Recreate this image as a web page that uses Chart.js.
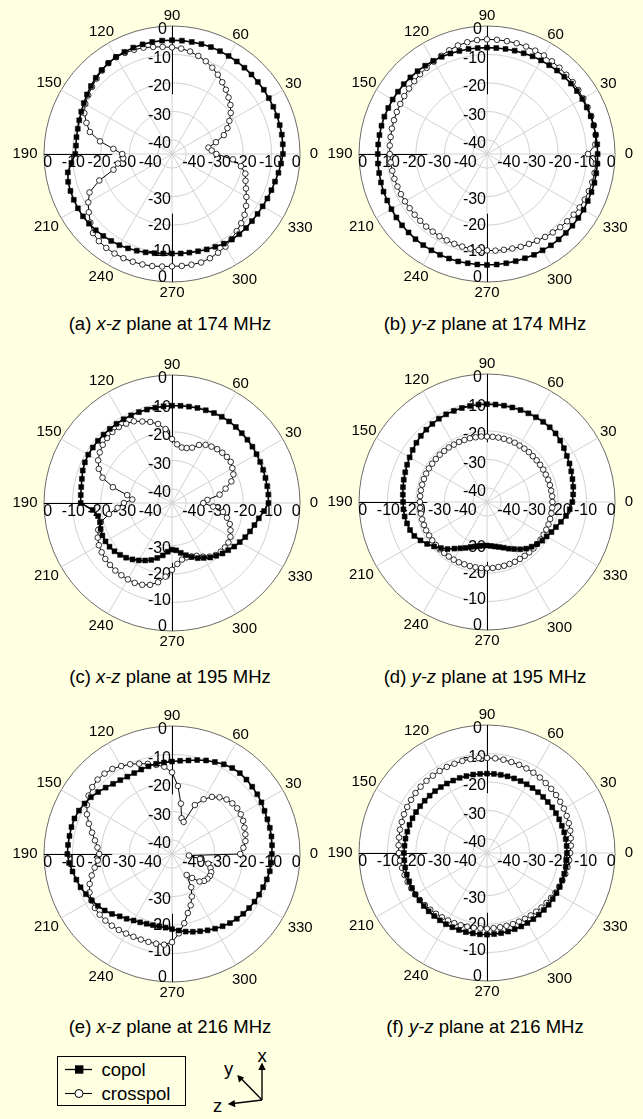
<!DOCTYPE html>
<html>
<head>
<meta charset="utf-8">
<script src="https://cdn.jsdelivr.net/npm/chart.js@4.4.1/dist/chart.umd.min.js"></script>
<style>
  html, body { margin: 0; padding: 0; }
  body {
    width: 643px; height: 1119px; position: relative; overflow: hidden;
    background: #FFFFE2;
    font-family: "Liberation Sans", Arial, sans-serif; color: #000;
  }
  canvas.polar { position: absolute; }
  .caption {
    position: absolute; font-size: 18.5px; white-space: nowrap;
    transform: translate(-50%, -50%); line-height: 1;
  }
  svg.keys { position: absolute; left: 0; top: 1040px; }
  svg.keys text { font-family: "Liberation Sans", Arial, sans-serif; font-size: 18.5px; fill: #000; }
</style>
</head>
<body>

<div class="caption" style="left:170px; top:324px;">(a) <i>x-z</i> plane at 174 MHz</div>
<div class="caption" style="left:485px; top:324px;">(b) <i>y-z</i> plane at 174 MHz</div>
<div class="caption" style="left:170px; top:677px;">(c) <i>x-z</i> plane at 195 MHz</div>
<div class="caption" style="left:485px; top:677px;">(d) <i>y-z</i> plane at 195 MHz</div>
<div class="caption" style="left:170px; top:1027px;">(e) <i>x-z</i> plane at 216 MHz</div>
<div class="caption" style="left:485px; top:1027px;">(f) <i>y-z</i> plane at 216 MHz</div>

<svg class="keys" width="330" height="79" viewBox="0 0 330 79">
  <rect x="57.5" y="16.5" width="128" height="49" fill="none" stroke="#000" stroke-width="1"/>
  <line x1="65" y1="29.5" x2="92" y2="29.5" stroke="#000" stroke-width="1.3"/>
  <rect x="75" y="25.3" width="8.4" height="8.4" fill="#000"/>
  <text x="101.5" y="35.5">copol</text>
  <line x1="65" y1="53.5" x2="92" y2="53.5" stroke="#000" stroke-width="1.1"/>
  <circle cx="79" cy="53.5" r="4" fill="#fff" stroke="#000" stroke-width="1"/>
  <text x="101.5" y="59.5">crosspol</text>

  <g stroke="#000" stroke-width="1.4" fill="none">
    <line x1="262" y1="60" x2="262" y2="28"/>
    <line x1="262" y1="60" x2="241" y2="38.5"/>
    <line x1="262" y1="60" x2="233" y2="63.5"/>
  </g>
  <g fill="#000">
    <polygon points="262,22.5 258.3,30 265.7,30"/>
    <polygon points="237.3,35 239.0,42.6 244.2,37.5"/>
    <polygon points="227.7,64 234.6,60.1 235.4,67.3"/>
  </g>
  <text x="262" y="22" text-anchor="middle">x</text>
  <text x="228.5" y="35" text-anchor="middle">y</text>
  <text x="217.5" y="71.5" text-anchor="middle">z</text>
</svg>

<canvas id="pa" class="polar" width="320" height="310"></canvas>
<canvas id="pb" class="polar" width="320" height="310"></canvas>
<canvas id="pc" class="polar" width="320" height="310"></canvas>
<canvas id="pd" class="polar" width="320" height="310"></canvas>
<canvas id="pe" class="polar" width="320" height="310"></canvas>
<canvas id="pf" class="polar" width="320" height="310"></canvas>

<script>
// Sampling angles (degrees, counter-clockwise from +x axis)
const ANGLES = [0,5,10,15,20,25,30,35,40,45,50,55,60,65,70,75,80,85,90,95,100,105,110,115,
  120,125,130,135,140,145,150,155,160,165,170,175,180,185,190,195,200,205,210,215,220,225,230,235,
  240,245,250,255,260,265,270,275,280,285,290,295,300,305,310,315,320,325,330,335,340,345,350,355];

// Angular tick marks and their printed text
const ANGLE_TICKS = [0, 30, 60, 90, 120, 150, 180, 210, 240, 270, 300, 330];
const ANGLE_TICK_TEXT = ['0', '30', '60', '90', '120', '150', '190', '210', '240', '270', '300', '330'];

// Radial (dB) tick labels
const RADIAL_TICKS = [0, -10, -20, -30, -40];

// (a) x-z plane, 174 MHz
const A_COPOL = [-6.0,-5.9,-5.8,-5.8,-5.7,-5.7,-5.7,-5.6,-5.6,-5.5,-5.4,-5.3,-5.2,-5.1,-5.0,-5.0,-5.0,-5.0,
  -5.0,-5.0,-5.0,-5.1,-5.2,-5.4,-5.6,-6.0,-6.5,-7.1,-7.8,-8.5,-9.2,-9.8,-10.3,-10.7,-10.9,-11.1,
  -11.0,-9.5,-7.8,-7.2,-7.0,-6.9,-6.8,-6.8,-6.9,-7.1,-7.4,-7.7,-8.0,-8.4,-8.8,-9.2,-9.6,-9.9,
  -10.0,-9.9,-9.8,-9.6,-9.3,-9.0,-8.6,-8.3,-8.2,-8.2,-8.3,-8.3,-8.2,-8.0,-7.8,-7.5,-7.0,-6.5];
const A_CROSSPOL = [-29.4,-31.0,-32.0,-29.0,-25.6,-23.5,-21.7,-19.8,-18.2,-16.9,-15.5,-14.2,-12.8,-11.5,-10.3,-9.3,-8.4,-7.8,
  -7.5,-7.2,-6.8,-6.3,-6.0,-5.8,-5.7,-6.0,-6.7,-7.5,-8.3,-9.0,-9.8,-11.0,-13.0,-15.1,-19.3,-24.3,
  -27.5,-27.8,-25.7,-23.7,-17.8,-13.0,-11.0,-9.3,-7.5,-5.7,-5.0,-4.7,-4.6,-4.6,-4.7,-4.8,-5.0,-5.3,
  -5.5,-5.5,-5.5,-5.5,-6.0,-6.7,-7.4,-8.5,-9.6,-10.6,-11.7,-13.2,-14.8,-16.3,-17.5,-18.3,-20.4,-23.5];

// (b) y-z plane, 174 MHz
const B_COPOL = [-6.1,-6.1,-6.2,-6.2,-6.2,-6.3,-6.3,-6.4,-6.5,-6.6,-6.7,-6.9,-7.0,-7.1,-7.3,-7.4,-7.5,-7.6,
  -7.6,-7.6,-7.5,-7.5,-7.4,-7.3,-7.2,-7.1,-7.0,-6.9,-6.8,-6.8,-6.7,-6.7,-6.6,-6.6,-6.6,-6.6,
  -6.6,-6.5,-6.5,-6.4,-6.3,-6.3,-6.2,-6.1,-6.0,-6.0,-5.9,-5.9,-5.9,-5.9,-5.9,-5.9,-6.0,-6.0,
  -6.0,-6.0,-6.0,-6.0,-6.0,-5.9,-5.9,-5.8,-5.8,-5.8,-5.8,-5.8,-5.8,-5.9,-5.9,-5.9,-6.0,-6.0];
const B_CROSSPOL = [-9.5,-6.8,-6.2,-6.1,-6.0,-6.0,-5.9,-5.8,-5.7,-5.6,-5.4,-5.2,-5.0,-4.9,-4.8,-4.7,-4.7,-4.7,
  -4.7,-4.8,-5.1,-5.5,-6.2,-6.9,-7.5,-8.0,-8.4,-8.8,-9.2,-9.5,-9.8,-10.0,-10.2,-10.4,-10.6,-10.7,
  -10.8,-11.0,-11.2,-11.3,-11.5,-11.6,-11.7,-11.8,-11.8,-11.8,-11.7,-11.7,-11.6,-11.5,-11.4,-11.3,-11.2,-11.1,
  -11.1,-10.9,-10.8,-10.6,-10.3,-10.1,-9.8,-9.4,-9.0,-8.6,-8.2,-7.8,-7.4,-7.1,-6.9,-6.7,-6.6,-6.6];

// (c) x-z plane, 195 MHz
const C_COPOL = [-11.1,-11.0,-11.0,-11.0,-10.9,-10.8,-10.7,-10.5,-10.4,-10.3,-10.1,-10.0,-10.0,-10.1,-10.3,-10.4,-10.6,-10.7,
  -10.8,-10.9,-11.0,-11.0,-11.0,-11.0,-11.0,-11.0,-11.0,-11.0,-11.0,-11.0,-11.0,-11.2,-11.6,-12.2,-12.6,-12.8,
  -12.9,-17.0,-18.6,-18.8,-18.3,-18.0,-18.0,-18.2,-18.6,-19.2,-19.9,-20.8,-21.7,-22.7,-23.7,-25.0,-26.3,-27.8,
  -28.6,-28.3,-27.2,-26.0,-24.8,-23.6,-22.7,-21.6,-20.8,-19.9,-19.2,-18.3,-17.5,-16.6,-15.8,-15.0,-14.0,-12.5];
const C_CROSSPOL = [-34.0,-32.5,-28.0,-25.5,-22.8,-21.2,-20.5,-19.8,-19.8,-20.0,-20.3,-20.8,-21.4,-22.5,-24.3,-25.0,-25.2,-24.3,
  -22.5,-18.9,-16.8,-15.5,-14.5,-13.3,-12.8,-12.4,-12.4,-12.7,-13.2,-14.0,-15.0,-16.6,-19.0,-23.5,-29.0,-31.0,
  -28.1,-25.8,-22.5,-19.1,-17.4,-16.2,-15.3,-14.8,-14.4,-14.2,-14.0,-14.0,-14.0,-14.0,-14.4,-15.2,-16.7,-19.0,
  -21.5,-23.5,-24.8,-25.2,-25.0,-24.5,-23.2,-22.0,-21.1,-20.8,-20.7,-20.8,-21.3,-22.3,-23.4,-25.0,-26.8,-30.5];

// (d) y-z plane, 195 MHz
const D_COPOL = [-15.0,-14.6,-14.2,-13.9,-13.5,-13.0,-12.6,-12.0,-11.4,-10.9,-10.7,-10.6,-10.6,-10.6,-10.6,-10.6,-10.6,-10.6,
  -10.6,-10.6,-10.7,-10.8,-10.9,-11.0,-11.2,-11.5,-11.8,-12.1,-12.6,-13.1,-13.6,-14.0,-14.4,-14.7,-15.0,-15.3,
  -15.5,-15.5,-15.6,-15.9,-16.2,-16.8,-18.0,-19.3,-20.7,-22.1,-23.4,-25.0,-26.2,-27.2,-28.2,-28.8,-29.3,-29.6,
  -29.7,-29.5,-29.1,-28.6,-27.9,-26.9,-25.9,-24.7,-23.6,-22.8,-22.0,-21.3,-20.8,-20.0,-19.2,-18.1,-16.8,-15.8];
const D_CROSSPOL = [-22.0,-22.0,-22.1,-22.1,-22.1,-22.2,-22.2,-22.2,-22.2,-22.2,-22.1,-22.1,-22.1,-22.0,-22.0,-22.0,-22.0,-22.0,
  -22.0,-21.9,-21.9,-21.8,-21.8,-21.7,-21.7,-21.6,-21.6,-21.5,-21.5,-21.5,-21.4,-21.4,-21.4,-21.4,-21.4,-21.4,
  -21.4,-21.4,-21.4,-21.4,-21.4,-21.4,-21.5,-21.5,-21.5,-21.5,-21.6,-21.6,-21.6,-21.6,-21.7,-21.7,-21.7,-21.7,
  -21.7,-21.7,-21.8,-21.8,-21.8,-21.8,-21.9,-21.9,-21.9,-21.9,-22.0,-22.0,-22.0,-22.0,-22.0,-22.0,-22.0,-22.0];

// (e) x-z plane, 216 MHz
const E_COPOL = [-9.9,-9.7,-9.5,-9.4,-9.3,-9.1,-8.7,-8.4,-8.2,-8.0,-7.9,-8.1,-8.6,-9.3,-10.0,-10.8,-11.6,-12.1,
  -12.5,-12.7,-12.8,-13.1,-13.4,-13.6,-13.6,-13.3,-12.8,-12.0,-11.1,-10.2,-9.5,-8.9,-8.5,-8.4,-8.4,-8.3,
  -8.2,-8.7,-9.5,-10.2,-10.8,-11.6,-12.4,-13.2,-14.1,-15.2,-16.4,-17.2,-18.0,-18.5,-18.9,-19.1,-19.2,-19.0,
  -18.6,-18.0,-17.3,-16.7,-16.1,-15.4,-14.7,-14.0,-13.3,-12.8,-12.3,-11.9,-11.5,-11.2,-10.9,-10.5,-10.1,-10.0];
const E_CROSSPOL = [-21.0,-19.8,-18.8,-18.3,-17.9,-17.4,-17.1,-17.0,-17.3,-17.9,-19.0,-20.5,-22.8,-26.0,-33.0,-32.0,-27.0,-21.0,
  -16.3,-14.2,-13.2,-12.2,-11.2,-10.2,-9.3,-8.5,-8.1,-8.0,-8.4,-9.2,-10.5,-12.0,-13.9,-15.9,-17.5,-18.7,
  -19.4,-18.8,-17.4,-15.8,-14.2,-13.0,-12.3,-11.9,-11.8,-11.9,-12.1,-12.4,-12.7,-12.9,-13.0,-13.0,-13.0,-13.0,
  -14.0,-17.0,-20.3,-23.5,-25.8,-28.5,-31.5,-36.0,-34.0,-31.3,-30.3,-29.8,-29.6,-29.8,-30.6,-31.8,-35.0,-39.0];

// (f) y-z plane, 216 MHz
const F_COPOL = [-16.9,-16.9,-16.9,-16.9,-17.0,-17.0,-17.0,-17.0,-17.1,-17.1,-17.1,-17.1,-17.1,-17.1,-17.1,-17.1,-17.1,-17.1,
  -17.1,-17.1,-17.0,-17.0,-16.9,-16.9,-16.8,-16.7,-16.6,-16.5,-16.4,-16.3,-16.2,-16.1,-16.0,-16.0,-15.9,-15.9,
  -15.8,-15.8,-15.8,-15.8,-15.9,-15.9,-15.9,-16.0,-16.0,-16.0,-16.1,-16.1,-16.1,-16.2,-16.2,-16.2,-16.3,-16.3,
  -16.3,-16.4,-16.4,-16.4,-16.5,-16.5,-16.6,-16.6,-16.7,-16.7,-16.7,-16.8,-16.8,-16.8,-16.9,-16.9,-16.9,-16.9];
const F_CROSSPOL = [-15.8,-15.4,-15.1,-14.7,-14.4,-14.1,-13.8,-13.6,-13.3,-13.1,-12.9,-12.6,-12.4,-12.2,-12.0,-11.9,-11.7,-11.6,
  -11.6,-11.5,-11.5,-11.5,-11.6,-11.6,-11.7,-11.8,-11.9,-12.0,-12.2,-12.4,-12.6,-12.8,-13.1,-13.3,-13.6,-13.8,
  -14.0,-14.3,-14.7,-15.0,-15.3,-15.6,-15.9,-16.2,-16.5,-16.8,-17.1,-17.4,-17.6,-17.8,-18.0,-18.2,-18.3,-18.4,
  -18.4,-18.5,-18.5,-18.5,-18.4,-18.4,-18.3,-18.2,-18.1,-17.9,-17.7,-17.5,-17.2,-17.0,-16.8,-16.5,-16.3,-16.0];

const PANELS = [
  { id: 'pa', cx: 172, cy: 154, copol: A_COPOL, crosspol: A_CROSSPOL },
  { id: 'pb', cx: 487, cy: 154, copol: B_COPOL, crosspol: B_CROSSPOL },
  { id: 'pc', cx: 172, cy: 503, copol: C_COPOL, crosspol: C_CROSSPOL },
  { id: 'pd', cx: 487, cy: 502, copol: D_COPOL, crosspol: D_CROSSPOL },
  { id: 'pe', cx: 172, cy: 854, copol: E_COPOL, crosspol: E_CROSSPOL },
  { id: 'pf', cx: 487, cy: 853, copol: F_COPOL, crosspol: F_CROSSPOL }
];

// Canvas geometry: 320x310 with the polar disc (radius 128) centred at (160,155)
const CANVAS_CX = 160, CANVAS_CY = 155;
const ANGLE_FONT = '15px "Liberation Sans", Arial, sans-serif';
const TICK_FONT = '16px "Liberation Sans", Arial, sans-serif';
// distance (px) of each angle label centre beyond the outer ring
const ANGLE_LABEL_GAP = [14, 12, 9, 10, 13, 14, 19, 17, 14, 11, 17, 20];
const AXIS_STUB_DB = -24;

Chart.defaults.font.family = '"Liberation Sans", Arial, sans-serif';

// The radar scale runs clockwise from the top, so the samples are fed starting
// at 90 deg and walking clockwise (90, 85, ... 0, 355, ... 95).
const N = ANGLES.length;
const startIdx = ANGLES.indexOf(90);
const clockwise = arr => ANGLES.map((_, i) => arr[(startIdx - i + N) % N]);
const CHART_LABELS = clockwise(ANGLES);

const polarDecor = {
  id: 'polarDecor',
  beforeDatasetsDraw(chart) {
    const s = chart.scales.r;
    const ctx = chart.ctx;
    const cx = s.xCenter, cy = s.yCenter;
    const d = v => s.getDistanceFromCenterForValue(v);
    ctx.save();
    // dark axis stubs on the left, top and bottom spokes
    ctx.strokeStyle = '#000';
    ctx.lineWidth = 1;
    ctx.beginPath();
    ctx.moveTo(cx - d(0), cy + 0.5); ctx.lineTo(cx - d(AXIS_STUB_DB), cy + 0.5);
    ctx.moveTo(cx + 0.5, cy - d(0)); ctx.lineTo(cx + 0.5, cy - d(AXIS_STUB_DB));
    ctx.moveTo(cx + 0.5, cy + d(0)); ctx.lineTo(cx + 0.5, cy + d(AXIS_STUB_DB));
    ctx.stroke();

    // dB labels along the four axes
    ctx.font = TICK_FONT;
    ctx.fillStyle = '#000';
    ctx.textAlign = 'right';
    ctx.textBaseline = 'middle';
    RADIAL_TICKS.forEach(v => {
      const xr = v === 0 ? cx - 5 : cx - 1;
      ctx.fillText(String(v), xr, cy - (d(v) - 4));
      if (v > -40) ctx.fillText(String(v), xr, cy + 0.92 * d(v) + 6);
    });
    ctx.textAlign = 'center';
    RADIAL_TICKS.forEach(v => {
      const off = 0.9 * d(v) + 9;
      ctx.fillText(String(v), cx - off, cy + 9);
      ctx.fillText(String(v), cx + off, cy + 9);
    });
    ctx.restore();
  },
  afterDraw(chart) {
    const s = chart.scales.r;
    const ctx = chart.ctx;
    const cx = s.xCenter, cy = s.yCenter, R = s.drawingArea;
    ctx.save();
    ctx.font = ANGLE_FONT;
    ctx.fillStyle = '#000';
    ctx.textAlign = 'center';
    ctx.textBaseline = 'middle';
    ANGLE_TICKS.forEach((a, i) => {
      const r = R + ANGLE_LABEL_GAP[i];
      const t = a * Math.PI / 180;
      ctx.fillText(ANGLE_TICK_TEXT[i], cx + r * Math.cos(t), cy - r * Math.sin(t));
    });
    ctx.restore();
  }
};

PANELS.forEach(p => {
  const canvas = document.getElementById(p.id);
  canvas.style.left = (p.cx - CANVAS_CX) + 'px';
  canvas.style.top = (p.cy - CANVAS_CY) + 'px';
  new Chart(canvas, {
    type: 'radar',
    data: {
      labels: CHART_LABELS,
      datasets: [
        {
          label: 'copol',
          data: clockwise(p.copol),
          borderColor: '#000',
          borderWidth: 1.6,
          fill: false,
          tension: 0,
          pointStyle: 'rect',
          pointRadius: 3.5,
          pointBackgroundColor: '#000',
          pointBorderColor: '#000',
          pointBorderWidth: 0.5
        },
        {
          label: 'crosspol',
          data: clockwise(p.crosspol),
          borderColor: '#000',
          borderWidth: 1,
          fill: false,
          tension: 0,
          pointStyle: 'circle',
          pointRadius: 2.8,
          pointBackgroundColor: '#fff',
          pointBorderColor: '#000',
          pointBorderWidth: 0.8
        }
      ]
    },
    options: {
      responsive: false,
      animation: false,
      events: [],
      layout: { padding: { left: 32, right: 32, top: 27, bottom: 27 } },
      plugins: { legend: { display: false }, tooltip: { enabled: false } },
      scales: {
        r: {
          min: -45,
          max: 0,
          startAngle: 0,
          backgroundColor: '#ffffff',
          ticks: { display: false, stepSize: 10 },
          pointLabels: { display: false },
          grid: {
            circular: true,
            lineWidth: 1,
            color: c => c.tick && c.tick.value === 0 ? '#6a6a6a'
              : (c.tick && c.tick.value < -40 ? 'rgba(0,0,0,0)' : '#d2d2d2')
          },
          angleLines: {
            color: '#d2d2d2',
            lineWidth: c => (CHART_LABELS[c.index] % 30 === 0 ? 1 : 0)
          }
        }
      }
    },
    plugins: [polarDecor]
  });
});
</script>
</body>
</html>
